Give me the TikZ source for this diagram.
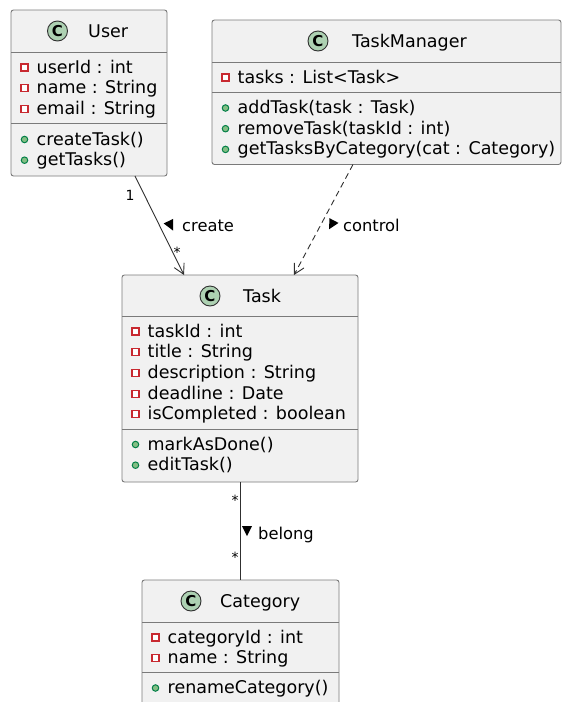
\documentclass[tikz,border=0pt]{standalone}
\usepackage{fontspec}
\setmainfont{DejaVu Sans}
\usetikzlibrary{arrows.meta,calc}
\definecolor{boxfill}{HTML}{F1F1F1}
\definecolor{boxline}{HTML}{7A7A7A}
\definecolor{cfill}{HTML}{ADD1B2}
\definecolor{privred}{HTML}{C82930}
\definecolor{pubgreen}{HTML}{038048}
\definecolor{pubfill}{HTML}{84BE84}
\definecolor{linkcol}{HTML}{303030}
\newcommand{\attrrow}[4]{%
  \node[privicon] (#3i) at ($(#1.north west)+(13.5,#2-5.5)$) {};
  \node[member] (#3) at ($(#1.north west)+(25.5,#2)$) {#4};}
\newcommand{\methrow}[4]{%
  \node[pubicon] (#3i) at ($(#1.north west)+(13.5,#2-5.5)$) {};
  \node[member] (#3) at ($(#1.north west)+(25.5,#2)$) {#4};}
\newcommand{\sepat}[2]{%
  \draw[sepline] ($(#1.north west)+(0,#2)$) -- ($(#1.north east)+(0,#2)$);}
\newcommand{\classtitle}[5]{% box, circle x, text x, name, text
  \node[cbadge] (#4c) at ($(#1.north west)+(#2,21)$) {C};
  \node[titletext] (#4t) at ($(#1.north west)+(#3,27)$) {#5};}
\begin{document}
\begin{tikzpicture}[x=1pt,y=-1pt,
  classbox/.style={draw=boxline, fill=boxfill, line width=0.9pt, rounded corners=2.5pt,
    inner sep=0pt, outer sep=0pt, anchor=north west},
  sepline/.style={draw=boxline, line width=0.9pt},
  cbadge/.style={circle, draw=linkcol, fill=cfill, line width=0.9pt, minimum size=20pt,
    inner sep=0pt, font=\fontsize{15}{15}\selectfont\bfseries},
  titletext/.style={anchor=base west, inner sep=0pt, font=\fontsize{17.5}{20}\selectfont},
  member/.style={anchor=base west, inner sep=0pt, font=\fontsize{17.5}{20}\selectfont},
  privicon/.style={rectangle, draw=privred, line width=1.1pt, fill=white, minimum width=7pt,
    minimum height=7pt, inner sep=0pt},
  pubicon/.style={circle, draw=pubgreen, fill=pubfill, line width=1pt, minimum size=6.5pt, inner sep=0pt},
  link/.style={draw=linkcol, line width=0.9pt},
  linkhead/.style={-{Straight Barb[length=10pt,width=11pt]}},
  lbl/.style={anchor=base west, inner sep=0pt, font=\fontsize{16.3}{18}\selectfont},
  mult/.style={inner sep=0pt, font=\fontsize{14}{14}\selectfont},
  dirtri/.style={fill=black}
]
\fill[white] (0,0) rectangle (563,702);
\useasboundingbox (0,0) rectangle (563,702);

% ---- User
\node[classbox, minimum width=156pt, minimum height=166pt] (user) at (11,10) {};
\classtitle{user}{46.5}{77}{user}{User}
\sepat{user}{42}
\sepat{user}{113}
\attrrow{user}{63}{u1}{userId : int}
\attrrow{user}{83.7}{u2}{name : String}
\attrrow{user}{104.4}{u3}{email : String}
\methrow{user}{135}{u4}{createTask()}
\methrow{user}{155.7}{u5}{getTasks()}

% ---- TaskManager
\node[classbox, minimum width=349pt, minimum height=144.5pt] (tm) at (212,20) {};
\classtitle{tm}{106}{140}{tm}{TaskManager}
\sepat{tm}{42}
\sepat{tm}{72.5}
\attrrow{tm}{63}{m1}{tasks : List<Task>}
\methrow{tm}{93.5}{m2}{addTask(task : Task)}
\methrow{tm}{114.2}{m3}{removeTask(taskId : int)}
\methrow{tm}{134.9}{m4}{getTasksByCategory(cat : Category)}

% ---- Task
\node[classbox, minimum width=236pt, minimum height=207pt] (task) at (122,275) {};
\classtitle{task}{88}{121}{task}{Task}
\sepat{task}{41}
\sepat{task}{154}
\attrrow{task}{62}{t1}{taskId : int}
\attrrow{task}{82.7}{t2}{title : String}
\attrrow{task}{103.4}{t3}{description : String}
\attrrow{task}{124.1}{t4}{deadline : Date}
\attrrow{task}{144.8}{t5}{isCompleted : boolean}
\methrow{task}{175}{t6}{markAsDone()}
\methrow{task}{195.7}{t7}{editTask()}

% ---- Category
\node[classbox, minimum width=197pt, minimum height=143pt] (cat) at (142,580) {};
\classtitle{cat}{49}{78}{cat}{Category}
\sepat{cat}{42}
\sepat{cat}{92.5}
\attrrow{cat}{63}{c1}{categoryId : int}
\attrrow{cat}{83.7}{c2}{name : String}
\methrow{cat}{113.5}{c3}{renameCategory()}

% ---- connectors
\coordinate (cs) at ($(user.south west)+(124,0)$);
\coordinate (ce) at ($(task.north west)+(62,0)$);
\draw[link, linkhead] (cs) -- (ce);
\coordinate (ks) at ($(tm.south west)+(141,0)$);
\coordinate (ke) at ($(task.north west)+(172,0)$);
\draw[link, linkhead, dash pattern=on 6pt off 4pt] (ks) -- (ke);
\draw[link] (task.south) -- (task.south |- cat.north);

% ---- labels
\node[mult] (m1l) at (130,195) {1};
\node[mult] (m2l) at (177,252) {*};
\node[mult] (m3l) at (235,500) {*};
\node[mult] (m4l) at (235,557) {*};
\fill[dirtri] (173,230.5) -- (173,218.9) -- (163.7,223.5) -- cycle;
\node[lbl] (lcreate) at (182,231.5) {create};
\fill[dirtri] (329.2,229.2) -- (338.5,222.9) -- (329.3,218.1) -- cycle;
\node[lbl] (lcontrol) at (343,231.5) {control};
\fill[dirtri] (247,536) -- (242,526) -- (252,526) -- cycle;
\node[lbl] (lbelong) at (258,539.5) {belong};
\end{tikzpicture}
\end{document}
